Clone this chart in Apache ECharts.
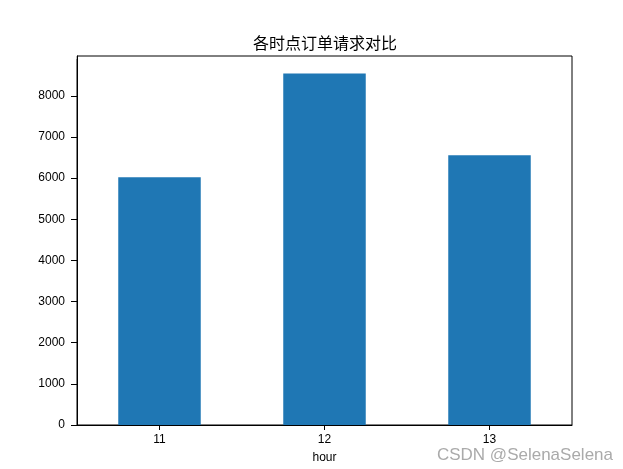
<!DOCTYPE html>
<html><head><meta charset="utf-8">
<script src="https://cdn.jsdelivr.net/npm/echarts@6/dist/echarts.min.js"></script>
<style>html,body{margin:0;padding:0;background:#fff}#c{width:623px;height:469px}</style>
</head><body><div id="c"></div>
<script>
const categories = ['11', '12', '13'];
const requests = [6020, 8540, 6555];
const yInterval = 1000;
const yMax = 8967;
const titleText = '各时点订单请求对比';
const xName = 'hour';
const watermark = 'CSDN @SelenaSelena';

const cjk = '"Noto Sans CJK SC", sans-serif';
const num = '"Liberation Sans", Arial, sans-serif';
const chart = echarts.init(document.getElementById('c'), null, {renderer: 'canvas'});
chart.setOption({
  animation: false,
  backgroundColor: '#fff',
  title: {
    text: titleText, left: 320, top: 30, textAlign: 'center',
    textStyle: {fontFamily: cjk, fontSize: 16, fontWeight: 'normal', color: '#000'}
  },
  graphic: [
    {type: 'text', right: 10, top: 447, z: 100,
     style: {text: watermark, fontFamily: num, fontSize: 17, fill: '#aaaaaa'}},
    {type: 'rect', z: 100, shape: {x: 66, y: 53, width: 10.5, height: 6}, style: {fill: '#fff'}}
  ],
  grid: {left: 77, right: 51, top: 56, bottom: 44, show: true, borderColor: '#000', borderWidth: 1, backgroundColor: 'transparent'},
  xAxis: {
    type: 'category', data: categories, boundaryGap: true,
    name: xName, nameLocation: 'middle', nameGap: 27,
    nameTextStyle: {fontFamily: num, fontSize: 12, color: '#000'},
    axisLine: {lineStyle: {color: '#000'}},
    axisTick: {show: true, alignWithLabel: true, length: 5, lineStyle: {color: '#000', width: 1}},
    axisLabel: {fontFamily: num, fontSize: 12, color: '#000', margin: 9}
  },
  yAxis: {
    type: 'value', min: 0, max: yMax, interval: yInterval,
    axisLine: {show: true, lineStyle: {color: '#000'}},
    axisTick: {show: true, length: 6, lineStyle: {color: '#000', width: 1}},
    axisLabel: {fontFamily: num, fontSize: 12, color: '#000', margin: 12, showMaxLabel: false,
      formatter: v => (v % yInterval === 0 ? String(v) : '')},
    splitLine: {show: false}
  },
  series: [{
    type: 'bar', data: requests, barWidth: '50%',
    itemStyle: {color: '#1f77b4'}
  }]
});
</script></body></html>
